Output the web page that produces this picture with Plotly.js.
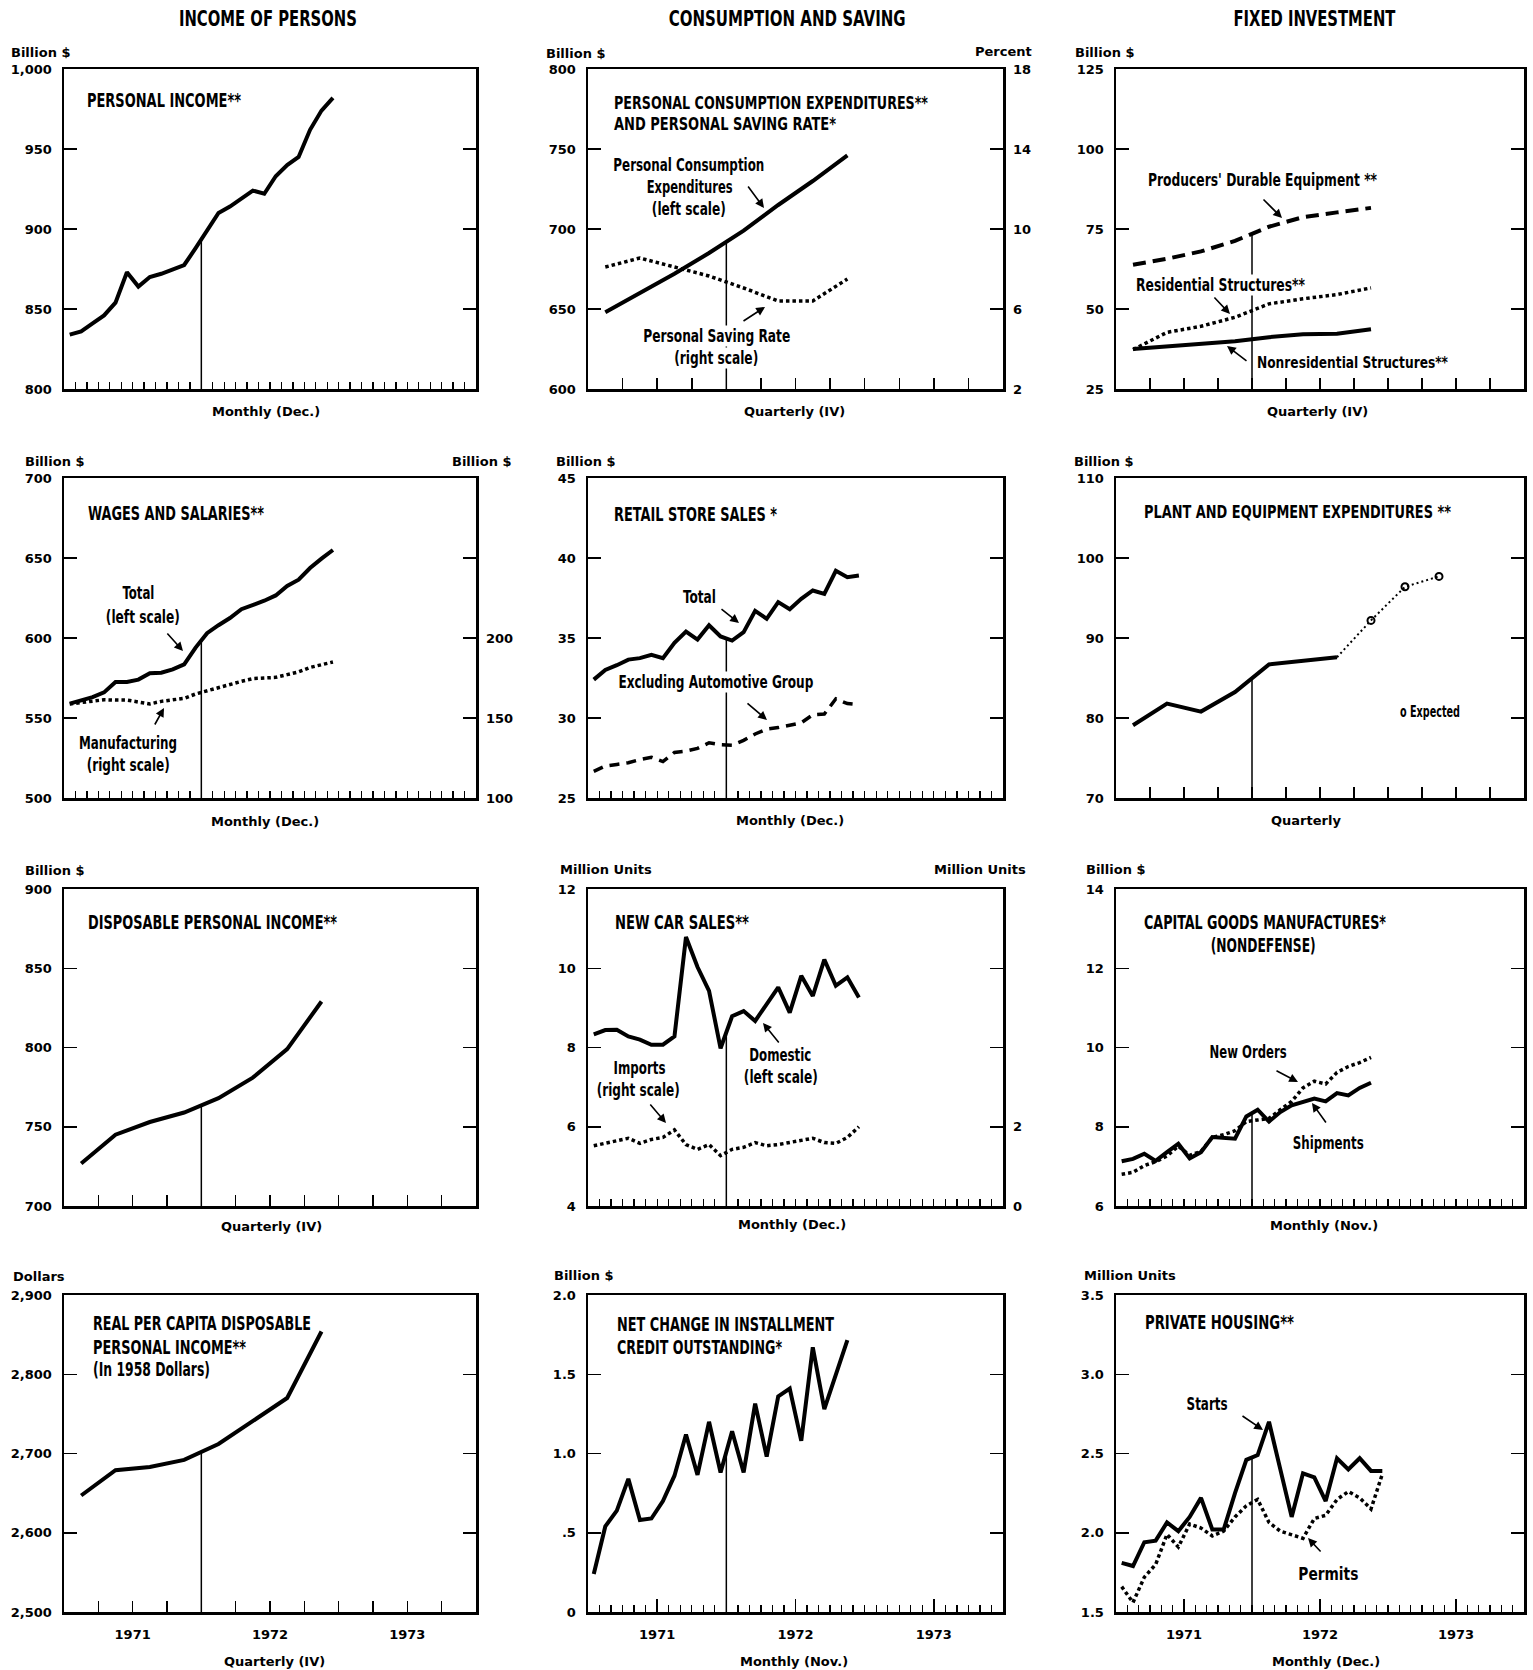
<!DOCTYPE html>
<html>
<head>
<meta charset="utf-8">
<script src="https://cdn.plot.ly/plotly-3.0.1.min.js"></script>
<style>
html,body{margin:0;padding:0;background:#fff}
#chart{width:1533px;height:1670px}
</style>
</head>
<body>
<div id="chart"></div>
<script>
// ================= DATA =================
const allMonths = ['Jan 1971','Feb 1971','Mar 1971','Apr 1971','May 1971','Jun 1971','Jul 1971','Aug 1971','Sep 1971','Oct 1971','Nov 1971','Dec 1971',
                   'Jan 1972','Feb 1972','Mar 1972','Apr 1972','May 1972','Jun 1972','Jul 1972','Aug 1972','Sep 1972','Oct 1972','Nov 1972','Dec 1972'];
const monthsToNov72 = allMonths.slice(0, 23);
const quarters = ['1971 Q1','1971 Q2','1971 Q3','1971 Q4','1972 Q1','1972 Q2','1972 Q3','1972 Q4'];
const peQuartersActual = ['1971 Q1','1971 Q2','1971 Q3','1971 Q4','1972 Q1','1972 Q2','1972 Q3'];
const peQuartersExpected = ['1972 Q4','1973 Q1','1973 Q2'];
const yearLabels = ['1971','1972','1973'];

// Income of persons
const personalIncome = [834, 836, 841, 846, 854, 873, 864, 870, 872, 875, 877.5, 888, 899, 910, 914, 919, 924, 922, 933, 940, 945, 962, 974, 982];
const wagesTotal = [559, 561, 563, 566, 572.5, 572.5, 574, 578, 578.3, 580.4, 583.5, 594, 603, 608, 612.5, 618, 620.6, 623.3, 626.6, 632.5, 636.4, 643.7, 649.6, 655];
const wagesMfg = [158.8, 159.7, 160.6, 161.4, 161.2, 161.2, 160, 158.8, 160.4, 161.4, 162.3, 165, 167, 169.1, 171.3, 172.9, 174.6, 174.8, 175.4, 177.1, 178.8, 181.6, 183.3, 185];
const dispIncome = [726.8, 745, 753, 759, 768, 781, 799, 829];
const realPerCapitaDpi = [2647, 2679, 2683, 2692, 2712, 2741, 2770, 2854];

// Consumption and saving
const pce = [648, 660, 672, 685, 699, 715, 730, 746];
const savingRate = [8.1, 8.55, 8.1, 7.65, 7.05, 6.4, 6.4, 7.5];
const retailTotal = [32.4, 33.0, 33.3, 33.65, 33.74, 33.95, 33.74, 34.7, 35.4, 34.9, 35.8, 35.1, 34.84, 35.36, 36.7, 36.2, 37.24, 36.8, 37.45, 37.97, 37.76, 39.2, 38.8, 38.9];
const retailExAuto = [26.66, 27.0, 27.1, 27.2, 27.4, 27.55, 27.28, 27.85, 27.93, 28.1, 28.45, 28.33, 28.3, 28.6, 29.0, 29.3, 29.4, 29.55, 29.7, 30.2, 30.25, 31.2, 30.9, 30.83];
const carDomestic = [8.33, 8.44, 8.45, 8.28, 8.2, 8.07, 8.07, 8.28, 10.79, 10.03, 9.43, 7.98, 8.79, 8.92, 8.67, 9.09, 9.52, 8.88, 9.81, 9.3, 10.22, 9.56, 9.77, 9.26];
const carImports = [1.52, 1.59, 1.66, 1.71, 1.58, 1.68, 1.73, 1.92, 1.55, 1.43, 1.55, 1.27, 1.43, 1.48, 1.6, 1.52, 1.55, 1.6, 1.67, 1.71, 1.6, 1.58, 1.73, 2.0];
const installmentCredit = [0.24, 0.54, 0.64, 0.84, 0.58, 0.59, 0.70, 0.86, 1.12, 0.865, 1.2, 0.88, 1.14, 0.88, 1.315, 0.98, 1.36, 1.41, 1.08, 1.67, 1.28, 1.5, 1.715];

// Fixed investment
const producersDurable = [63.8, 65.7, 68, 71.3, 75.7, 78.7, 80.2, 81.6];
const residentialStruct = [37.3, 42.7, 44.6, 47.4, 51.6, 53.2, 54.5, 56.6];
const nonresidentialStruct = [37.5, 38.3, 39.2, 39.9, 41.2, 42.1, 42.3, 43.7];
const plantEquipActual = [79.1, 81.8, 80.8, 83.25, 86.7, 87.2, 87.6];
const plantEquipExpected = [92.2, 96.4, 97.7];
const capShipments = [7.13, 7.19, 7.32, 7.14, 7.36, 7.57, 7.2, 7.36, 7.74, 7.73, 7.7, 8.26, 8.43, 8.13, 8.37, 8.54, 8.62, 8.71, 8.64, 8.85, 8.79, 8.98, 9.11];
const capNewOrders = [6.8, 6.85, 7.02, 7.12, 7.26, 7.51, 7.28, 7.38, 7.73, 7.8, 7.9, 8.13, 8.17, 8.21, 8.43, 8.64, 8.98, 9.15, 9.08, 9.37, 9.52, 9.62, 9.75];
const housingStarts = [1.81, 1.79, 1.94, 1.95, 2.065, 2.01, 2.1, 2.22, 2.02, 2.02, 2.25, 2.46, 2.49, 2.70, 2.40, 2.10, 2.375, 2.35, 2.2, 2.47, 2.40, 2.47, 2.39, 2.39];
const housingPermits = [1.66, 1.56, 1.72, 1.8, 1.99, 1.91, 2.055, 2.03, 1.98, 2.01, 2.1, 2.17, 2.21, 2.065, 2.01, 1.985, 1.965, 2.09, 2.11, 2.21, 2.26, 2.22, 2.15, 2.37];

// Tick values / labels
const tvPI = [800, 850, 900, 950, 1000],    ttPI = ['800', '850', '900', '950', '1,000'];
const tvPCE = [600, 650, 700, 750, 800],    ttPCE = ['600', '650', '700', '750', '800'];
const tvPct = [2, 6, 10, 14, 18],           ttPct = ['2', '6', '10', '14', '18'];
const tvFI = [25, 50, 75, 100, 125],        ttFI = ['25', '50', '75', '100', '125'];
const tvWS = [500, 550, 600, 650, 700],     ttWS = ['500', '550', '600', '650', '700'];
const tvWSR = [100, 150, 200],              ttWSR = ['100', '150', '200'];
const tvRS = [25, 30, 35, 40, 45],          ttRS = ['25', '30', '35', '40', '45'];
const tvPE = [70, 80, 90, 100, 110],        ttPE = ['70', '80', '90', '100', '110'];
const tvDPI = [700, 750, 800, 850, 900],    ttDPI = ['700', '750', '800', '850', '900'];
const tvCar = [4, 6, 8, 10, 12],            ttCar = ['4', '6', '8', '10', '12'];
const tvCarR = [0, 2],                      ttCarR = ['0', '2'];
const tvCG = [6, 8, 10, 12, 14],            ttCG = ['6', '8', '10', '12', '14'];
const tvRD = [2500, 2600, 2700, 2800, 2900], ttRD = ['2,500', '2,600', '2,700', '2,800', '2,900'];
const tvIC = [0, 0.5, 1.0, 1.5, 2.0],       ttIC = ['0', '.5', '1.0', '1.5', '2.0'];
const tvPH = [1.5, 2.0, 2.5, 3.0, 3.5],     ttPH = ['1.5', '2.0', '2.5', '3.0', '3.5'];

// ================= GEOMETRY / STYLE =================
const W = 1533, H = 1670;
const COLS = [[64, 476], [588, 1003], [1116, 1524]];
const ROWS = [[69, 389], [478, 798], [889, 1206], [1295, 1612]];
const NARROW = "'DejaVu Sans Condensed', 'Liberation Sans Narrow', 'Arial Narrow', sans-serif";
const GEO = "'DejaVu Sans', Verdana, sans-serif";

const SOLID = {color: '#000', width: 4};
const DOT = {color: '#000', width: 3.5, dash: '3.5px,3px'};
const DASH_L = {color: '#000', width: 4, dash: '13px,7px'};
const DASH_M = {color: '#000', width: 3.5, dash: '10px,7px'};

function posM(label) { return allMonths.indexOf(label) + 0.5; }
function posQ(label) { const p = label.split(' Q'); return (+p[0] - 1971) * 12 + (+p[1] - 1) * 3 + 1.5; }

const panels = [
  {r: 0, c: 0, f: 'M', yr: [800, 1000], tv: tvPI, tt: ttPI,
   s: [{x: allMonths, y: personalIncome, l: SOLID, p: posM}]},
  {r: 0, c: 1, f: 'Q', yr: [600, 800], tv: tvPCE, tt: ttPCE,
   y2: {ax: 'y13', r: [2, 18], tv: tvPct, tt: ttPct},
   s: [{x: quarters, y: pce, l: SOLID, p: posQ}, {x: quarters, y: savingRate, l: DOT, p: posQ, sec: true}]},
  {r: 0, c: 2, f: 'Q', yr: [25, 125], tv: tvFI, tt: ttFI,
   s: [{x: quarters, y: producersDurable, l: DASH_L, p: posQ}, {x: quarters, y: residentialStruct, l: DOT, p: posQ},
       {x: quarters, y: nonresidentialStruct, l: SOLID, p: posQ}]},
  {r: 1, c: 0, f: 'M', yr: [500, 700], tv: tvWS, tt: ttWS,
   y2: {ax: 'y14', r: [100, 300], tv: tvWSR, tt: ttWSR},
   s: [{x: allMonths, y: wagesTotal, l: SOLID, p: posM}, {x: allMonths, y: wagesMfg, l: DOT, p: posM, sec: true}]},
  {r: 1, c: 1, f: 'M', yr: [25, 45], tv: tvRS, tt: ttRS,
   s: [{x: allMonths, y: retailTotal, l: SOLID, p: posM}, {x: allMonths, y: retailExAuto, l: DASH_M, p: posM}]},
  {r: 1, c: 2, f: 'Q', yr: [70, 110], tv: tvPE, tt: ttPE,
   s: [{x: peQuartersActual, y: plantEquipActual, l: SOLID, p: posQ}]},
  {r: 2, c: 0, f: 'Q', yr: [700, 900], tv: tvDPI, tt: ttDPI,
   s: [{x: quarters, y: dispIncome, l: SOLID, p: posQ}]},
  {r: 2, c: 1, f: 'M', yr: [4, 12], tv: tvCar, tt: ttCar,
   y2: {ax: 'y15', r: [0, 8], tv: tvCarR, tt: ttCarR},
   s: [{x: allMonths, y: carDomestic, l: SOLID, p: posM}, {x: allMonths, y: carImports, l: DOT, p: posM, sec: true}]},
  {r: 2, c: 2, f: 'M', yr: [6, 14], tv: tvCG, tt: ttCG,
   s: [{x: monthsToNov72, y: capShipments, l: SOLID, p: posM}, {x: monthsToNov72, y: capNewOrders, l: DOT, p: posM}]},
  {r: 3, c: 0, f: 'Q', yr: [2500, 2900], tv: tvRD, tt: ttRD,
   s: [{x: quarters, y: realPerCapitaDpi, l: SOLID, p: posQ}]},
  {r: 3, c: 1, f: 'M', yr: [0, 2], tv: tvIC, tt: ttIC,
   s: [{x: monthsToNov72, y: installmentCredit, l: SOLID, p: posM}]},
  {r: 3, c: 2, f: 'M', yr: [1.5, 3.5], tv: tvPH, tt: ttPH,
   s: [{x: allMonths, y: housingStarts, l: SOLID, p: posM}, {x: allMonths, y: housingPermits, l: DOT, p: posM}]}
];

function interp(xs, ys, x) {
  for (let i = 0; i < xs.length - 1; i++) {
    if (x >= xs[i] && x <= xs[i + 1]) return ys[i] + (ys[i + 1] - ys[i]) * (x - xs[i]) / (xs[i + 1] - xs[i]);
  }
  return ys[ys.length - 1];
}

const traces = [];
const layout = {
  width: W, height: H, autosize: false,
  margin: {l: 0, r: 0, t: 0, b: 0, pad: 0},
  paper_bgcolor: '#fff', plot_bgcolor: '#fff',
  showlegend: false, hovermode: false,
  annotations: []
};

const tickFont = {family: GEO, size: 13, color: '#000', weight: 'bold'};
const REF_X = 12; // year-end reference line (end of 1971)

panels.forEach((p, i) => {
  const k = i + 1;
  const xn = k === 1 ? 'x' : 'x' + k, yn = k === 1 ? 'y' : 'y' + k;
  const xa = k === 1 ? 'xaxis' : 'xaxis' + k, ya = k === 1 ? 'yaxis' : 'yaxis' + k;
  const bottom = p.r === 3;
  const xd = [COLS[p.c][0] / W, COLS[p.c][1] / W];
  const yd = [1 - ROWS[p.r][1] / H, 1 - ROWS[p.r][0] / H];

  const xAxis = {
    domain: xd, range: [0, 36], anchor: yn, showline: true, linewidth: 2.5, linecolor: '#000', mirror: true,
    ticks: 'inside', tickcolor: '#000', tickwidth: 1.5, showgrid: false, zeroline: false, fixedrange: true,
    tickmode: 'array', tickfont: tickFont, ticklabelstandoff: 9
  };
  if (p.f === 'M') {
    xAxis.tickvals = [6, 18, 30];
    xAxis.ticktext = bottom ? yearLabels : ['', '', ''];
    xAxis.ticklen = 13;
    xAxis.minor = {tickmode: 'linear', tick0: 0, dtick: 1, ticks: 'inside', ticklen: 7, tickwidth: 1.3, tickcolor: '#000', showgrid: false};
  } else {
    const tv = [3, 6, 9, 12, 15, 18, 21, 24, 27, 30, 33];
    xAxis.tickvals = tv;
    xAxis.ticktext = tv.map(v => bottom ? (v === 6 ? yearLabels[0] : v === 18 ? yearLabels[1] : v === 30 ? yearLabels[2] : '') : '');
    xAxis.ticklen = 11;
  }
  xAxis.showticklabels = bottom;
  layout[xa] = xAxis;

  layout[ya] = {
    domain: yd, range: p.yr, anchor: xn, showline: true, linewidth: 2.5, linecolor: '#000', mirror: 'ticks',
    ticks: 'inside', ticklen: 13, tickwidth: 1.5, tickcolor: '#000', showgrid: false, zeroline: false, fixedrange: true,
    tickmode: 'array', tickvals: p.tv, ticktext: p.tt, tickfont: tickFont, ticklabelstandoff: 7
  };

  if (p.y2) {
    const an = 'yaxis' + p.y2.ax.slice(1);
    layout[an] = {
      overlaying: yn, side: 'right', anchor: xn, range: p.y2.r, showline: false, ticks: '', showgrid: false,
      zeroline: false, fixedrange: true, tickmode: 'array', tickvals: p.y2.tv, ticktext: p.y2.tt,
      tickfont: tickFont, ticklabelstandoff: 9
    };
  }

  p.s.forEach(s => {
    traces.push({
      type: 'scatter', mode: 'lines', x: s.x.map(s.p), y: s.y,
      xaxis: xn, yaxis: s.sec ? p.y2.ax : yn, line: s.l, hoverinfo: 'skip', showlegend: false
    });
  });

  // reference line at end of 1971, up to the primary series
  const main = p.s[0];
  const top = interp(main.x.map(main.p), main.y, REF_X);
  traces.push({
    type: 'scatter', mode: 'lines', x: [REF_X, REF_X], y: [p.yr[0], top], xaxis: xn, yaxis: yn,
    line: {color: '#000', width: 1.5}, hoverinfo: 'skip', showlegend: false
  });
});

// Plant & equipment: expected values (dotted, open circles)
traces.push({
  type: 'scatter', mode: 'lines',
  x: [peQuartersActual[peQuartersActual.length - 1]].concat(peQuartersExpected).map(posQ),
  y: [plantEquipActual[plantEquipActual.length - 1]].concat(plantEquipExpected),
  xaxis: 'x6', yaxis: 'y6', line: {color: '#000', width: 2, dash: '2px,3px'}, hoverinfo: 'skip', showlegend: false
});
traces.push({
  type: 'scatter', mode: 'markers', x: peQuartersExpected.map(posQ), y: plantEquipExpected,
  xaxis: 'x6', yaxis: 'y6', marker: {symbol: 'circle-open', size: 7, color: '#000', line: {width: 2, color: '#000'}},
  hoverinfo: 'skip', showlegend: false
});

// ================= TEXT =================
const fitInfo = [];
function txt(t, x, y, o) {
  o = o || {};
  layout.annotations.push({
    text: t, xref: 'paper', yref: 'paper', x: x / W, y: 1 - y / H,
    xanchor: o.a || 'left', yanchor: 'middle', showarrow: false, align: o.a || 'left',
    bgcolor: o.bg || 'rgba(0,0,0,0)', borderpad: 0,
    font: {family: o.geo ? GEO : NARROW, size: o.s || (o.geo ? 13 : 19), color: '#000', weight: 'bold'}
  });
  fitInfo.push(o.w ? {w: o.w, a: o.a || 'left'} : null);
}
function arrow(x0, y0, x1, y1) {
  layout.annotations.push({
    text: '', xref: 'paper', yref: 'paper', x: x1 / W, y: 1 - y1 / H, ax: x0 - x1, ay: y0 - y1,
    axref: 'pixel', ayref: 'pixel', showarrow: true, arrowhead: 2, arrowsize: 1.1, arrowwidth: 1.6,
    arrowcolor: '#000', standoff: 0, startstandoff: 0
  });
  fitInfo.push(null);
}

// Column headers
txt('INCOME OF PERSONS', 268, 19, {a: 'center', s: 22, w: 178});
txt('CONSUMPTION AND SAVING', 787, 19, {a: 'center', s: 22, w: 237});
txt('FIXED INVESTMENT', 1314, 19, {a: 'center', s: 22, w: 162});

// Unit labels
const G = {geo: true};
txt('Billion $', 10, 53, G); txt('Billion $', 545, 54, G); txt('Percent', 1033, 51, {geo: true, a: 'right'});
txt('Billion $', 1074, 53, G);
txt('Billion $', 24, 461, G); txt('Billion $', 451, 461, G); txt('Billion $', 555, 461, G); txt('Billion $', 1073, 461, G);
txt('Billion $', 24, 870, G); txt('Million Units', 559, 869, G); txt('Million Units', 1027, 869, {geo: true, a: 'right'});
txt('Billion $', 1085, 869, G);
txt('Dollars', 12, 1276, G); txt('Billion $', 553, 1275, G); txt('Million Units', 1083, 1275, G);

// Frequency labels
const GC = {geo: true, a: 'center'};
txt('Monthly (Dec.)', 266, 412, GC); txt('Quarterly (IV)', 794, 412, GC); txt('Quarterly (IV)', 1317, 412, GC);
txt('Monthly (Dec.)', 265, 821, GC); txt('Monthly (Dec.)', 790, 820, GC); txt('Quarterly', 1306, 820, GC);
txt('Quarterly (IV)', 271, 1226, GC); txt('Monthly (Dec.)', 792, 1224, GC); txt('Monthly (Nov.)', 1324, 1225, GC);
txt('Quarterly (IV)', 274, 1661, GC); txt('Monthly (Nov.)', 794, 1661, GC); txt('Monthly (Dec.)', 1326, 1661, GC);

// Panel titles
txt('PERSONAL INCOME**', 86, 100, {w: 154});
txt('PERSONAL CONSUMPTION EXPENDITURES**', 613, 103, {s: 18, w: 314}); txt('AND PERSONAL SAVING RATE*', 613, 124, {s: 18, w: 222});
txt('WAGES AND SALARIES**', 87, 513, {w: 176});
txt('RETAIL STORE SALES *', 613, 514, {w: 163});
txt('PLANT AND EQUIPMENT EXPENDITURES **', 1143, 512, {s: 17, w: 307});
txt('DISPOSABLE PERSONAL INCOME**', 87, 922, {w: 249});
txt('NEW CAR SALES**', 614, 922, {w: 134});
txt('CAPITAL GOODS MANUFACTURES*', 1143, 922, {w: 242}); txt('(NONDEFENSE)', 1263, 945, {a: 'center', w: 105});
txt('REAL PER CAPITA DISPOSABLE', 92, 1323, {w: 218}); txt('PERSONAL INCOME**', 92, 1347, {w: 153});
txt('(In 1958 Dollars)', 92, 1369, {w: 117});
txt('NET CHANGE IN INSTALLMENT', 616, 1324, {w: 217}); txt('CREDIT OUTSTANDING*', 616, 1347, {w: 165});
txt('PRIVATE HOUSING**', 1144, 1322, {w: 149});

// Series labels
const SL = 17.5;
txt('Personal Consumption', 689, 165, {a: 'center', s: SL, w: 151});
txt('Expenditures', 689, 187, {a: 'center', s: SL, w: 86});
txt('(left scale)', 689, 209, {a: 'center', s: SL, w: 74});
arrow(747, 185, 764, 208);
txt('Personal Saving Rate', 716, 336, {a: 'center', s: SL, w: 147, bg: '#fff'});
txt('(right scale)', 716, 358, {a: 'center', s: SL, w: 84, bg: '#fff'});
arrow(742, 322, 765, 307);
txt("Producers' Durable Equipment **", 1147, 180, {s: SL, w: 229});
arrow(1262, 198, 1282, 218);
txt('Residential Structures**', 1135, 285, {s: SL, w: 169, bg: '#fff'});
arrow(1213, 296, 1230, 314);
txt('Nonresidential Structures**', 1256, 363, {s: 16.5, w: 191});
arrow(1248, 362, 1227, 346);
txt('Total', 138, 593, {a: 'center', s: SL, w: 32});
txt('(left scale)', 143, 617, {a: 'center', s: SL, w: 74});
arrow(166, 632, 183, 651);
txt('Manufacturing', 128, 743, {a: 'center', s: SL, w: 98});
txt('(right scale)', 128, 765, {a: 'center', s: SL, w: 83});
arrow(154, 726, 164, 708);
txt('Total', 699, 597, {a: 'center', s: SL, w: 33});
arrow(720, 608, 739, 623);
txt('Excluding Automotive Group', 716, 682, {a: 'center', s: SL, w: 195, bg: '#fff'});
arrow(746, 702, 767, 720);
txt('o Expected', 1399, 712, {s: 15, w: 60});
txt('Imports', 639, 1068, {a: 'center', s: SL, w: 52});
txt('(right scale)', 638, 1090, {a: 'center', s: SL, w: 83});
arrow(649, 1103, 666, 1123);
txt('Domestic', 780, 1055, {a: 'center', s: SL, w: 62});
txt('(left scale)', 781, 1077, {a: 'center', s: SL, w: 74});
arrow(780, 1044, 763, 1023);
txt('New Orders', 1248, 1052, {a: 'center', s: SL, w: 77});
arrow(1275, 1070, 1298, 1082);
txt('Shipments', 1328, 1143, {a: 'center', s: SL, w: 71});
arrow(1327, 1124, 1312, 1103);
txt('Starts', 1207, 1404, {a: 'center', s: SL, w: 41});
arrow(1241, 1415, 1263, 1430);
txt('Permits', 1328, 1574, {a: 'center', s: SL, w: 60});
arrow(1322, 1553, 1308, 1538);

// Condense the narrow-font labels to the widths measured on the reference
function condense(gd) {
  fitInfo.forEach((f, i) => {
    if (!f) return;
    const grp = gd.querySelector('.annotation[data-index="' + i + '"]');
    if (!grp) return;
    const el = grp.querySelector('text.annotation-text');
    const bg = grp.querySelector('rect.bg');
    if (!el) return;
    el.setAttribute('textLength', f.w);
    el.setAttribute('lengthAdjust', 'spacingAndGlyphs');
    if (bg) {
      const oldW = parseFloat(bg.getAttribute('width')) || 0;
      const oldX = parseFloat(bg.getAttribute('x')) || 0;
      const nw = f.w + 4;
      let nx = oldX - 2;
      if (f.a === 'center') nx = oldX + (oldW - nw) / 2;
      else if (f.a === 'right') nx = oldX + oldW - nw + 2;
      bg.setAttribute('x', nx);
      bg.setAttribute('width', nw);
    }
  });
}

Plotly.newPlot('chart', traces, layout, {staticPlot: true, displayModeBar: false}).then(condense);
</script>
</body>
</html>
